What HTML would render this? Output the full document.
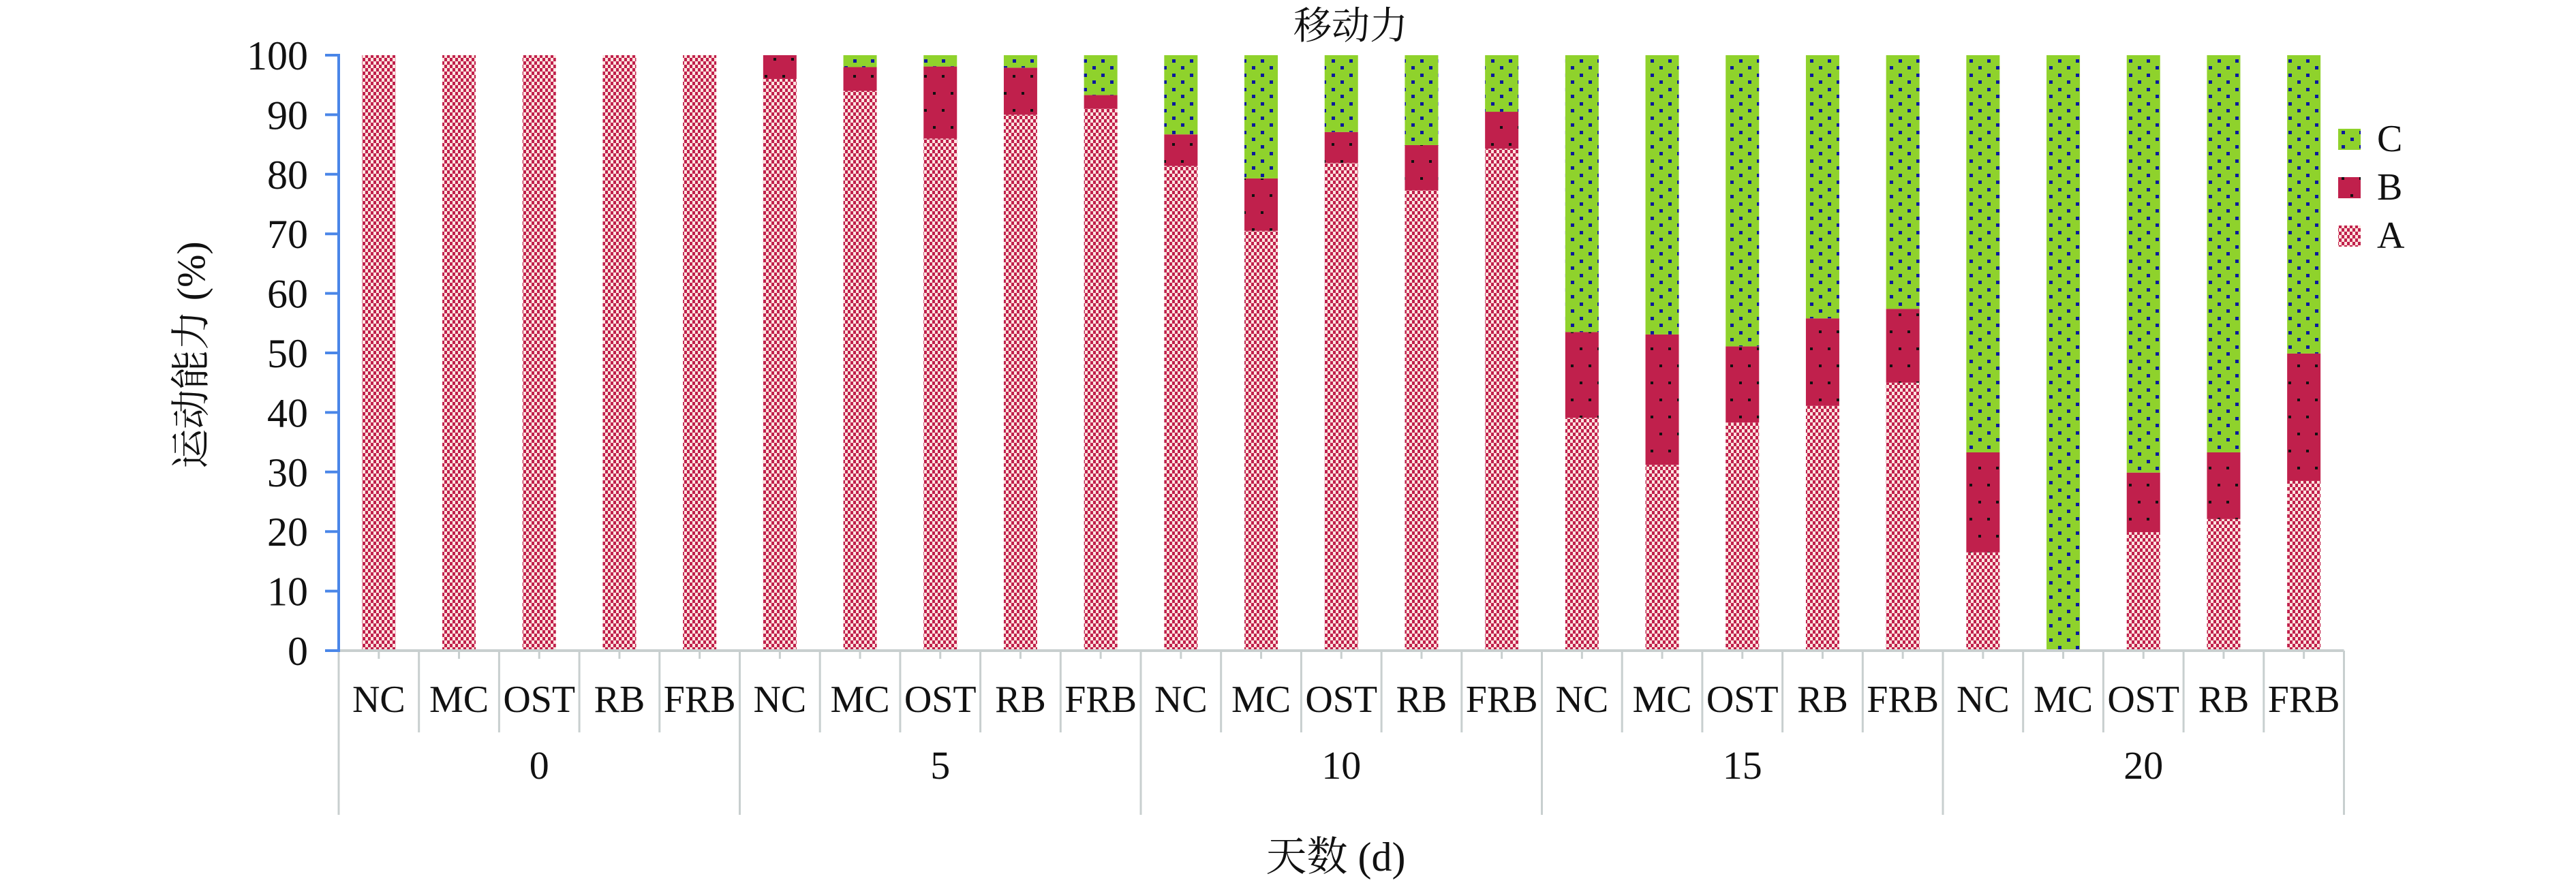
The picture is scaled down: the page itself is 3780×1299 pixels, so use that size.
<!DOCTYPE html>
<html><head><meta charset="utf-8"><style>
html,body{margin:0;padding:0;background:#fff;}
svg{display:block;}
text{font-family:"Liberation Serif","Noto Serif CJK SC","Noto Sans CJK SC",serif;fill:#111;}
</style></head><body>
<svg id="chart" width="3780" height="1299" viewBox="0 0 3780 1299">
<defs>
<pattern id="patA" width="8" height="10" patternUnits="userSpaceOnUse">
<rect width="8" height="10" fill="#fde3df"/>
<rect x="0" y="0" width="4" height="5" fill="#c0204c"/>
<rect x="4" y="5" width="4" height="5" fill="#c0204c"/>
</pattern>
<pattern id="patB" width="26" height="50" patternUnits="userSpaceOnUse">
<rect width="26" height="50" fill="#c0204c"/>
<rect x="4" y="10" width="4" height="4" fill="#111"/>
<rect x="17" y="35" width="4" height="4" fill="#111"/>
</pattern>
<pattern id="patC" width="26" height="21" patternUnits="userSpaceOnUse">
<rect width="26" height="21" fill="#8fd22c"/>
<rect x="4" y="3" width="5" height="5" fill="#0c1a9c"/>
<rect x="17" y="13" width="5" height="5" fill="#0c1a9c"/>
</pattern>
</defs>
<text x="1982" y="57" font-size="56" text-anchor="middle">移动力</text>
<text transform="translate(300,521) rotate(-90)" font-size="58" text-anchor="middle">运动能力 (%)</text>
<text x="1960" y="1278" font-size="60" text-anchor="middle">天数 (d)</text>
<g id="grid"></g>
<g id="bars"></g>
<g id="axes"></g>
<g>
<rect x="3431" y="189" width="33" height="31" fill="url(#patC)"/>
<text x="3488" y="222" font-size="56">C</text>
<rect x="3431" y="260" width="33" height="31" fill="url(#patB)"/>
<text x="3488" y="293" font-size="56">B</text>
<rect x="3431" y="331" width="33" height="31" fill="url(#patA)"/>
<text x="3488" y="364" font-size="56">A</text>
</g>
</svg>
<script>
const groups = ["0","5","10","15","20"];
const treatments = ["NC","MC","OST","RB","FRB"];
const seriesA = [100,100,100,100,100, 96,94,86,90,91, 81.4,70.5,81.9,77.3,84.3, 39.1,31.2,38.3,41.1,45.0, 16.5,0,19.9,22.1,28.5];
const seriesB = [0,0,0,0,0, 4,4,12.1,7.9,2.3, 5.3,8.8,5.2,7.6,6.2, 14.4,21.9,12.8,14.7,12.4, 16.8,0,10.0,11.2,21.4];
const seriesC = [0,0,0,0,0, 0,2,1.9,2.1,6.7, 13.3,20.7,12.9,15.1,9.5, 46.5,46.9,48.9,44.2,42.6, 66.7,100,70.1,66.7,50.1];
const yTicks = [0,10,20,30,40,50,60,70,80,90,100];

const NS="http://www.w3.org/2000/svg";
const X0=497, Y0=955, Y100=81, STEP=117.7, BW=49;
const n=groups.length*treatments.length;
const yScale=v=>Y0-(v/100)*(Y0-Y100);
const xCenter=i=>X0+STEP*(i+0.5);
function mk(tag,attrs,parent){const e=document.createElementNS(NS,tag);for(const k in attrs)e.setAttribute(k,attrs[k]);parent.appendChild(e);return e;}
const bars=document.getElementById('bars'), axes=document.getElementById('axes');
const series=[[seriesA,'url(#patA)','a'],[seriesB,'url(#patB)','b'],[seriesC,'url(#patC)','c']];
for(let i=0;i<n;i++){
  let base=0;
  for(const [arr,fill,nm] of series){
    const v=arr[i];
    if(v>0){
      const r=mk('rect',{x:xCenter(i)-BW/2,y:yScale(base+v),width:BW,height:yScale(base)-yScale(base+v),fill:fill},bars);
      
      
    }
    base+=v;
  }
}
// x axis
const xl=mk('line',{x1:X0,y1:Y0,x2:X0+STEP*n,y2:Y0,stroke:'#c8cfcf','stroke-width':4},axes);


for(let i=0;i<n;i++){
  mk('line',{x1:xCenter(i),y1:Y0,x2:xCenter(i),y2:Y0+12,stroke:'#c8cfcf','stroke-width':3},axes);
  const t=mk('text',{x:xCenter(i),y:1045,'font-size':56,'text-anchor':'middle'},axes);
  t.textContent=treatments[i%5];
  
  
}
for(let i=0;i<=n;i++){
  const x=X0+STEP*i;
  const long=(i%5===0);
  mk('line',{x1:x,y1:Y0,x2:x,y2:long?1196:1075,stroke:'#c8cfcf','stroke-width':3},axes);
}
for(let g=0;g<groups.length;g++){
  const t=mk('text',{x:X0+STEP*(g*5+2.5),y:1143,'font-size':58,'text-anchor':'middle'},axes);
  t.textContent=groups[g];
  
  
}
// y axis
const yl=mk('line',{x1:X0,y1:Y100-2,x2:X0,y2:Y0+2,stroke:'#4a86e8','stroke-width':4},axes);


for(const v of yTicks){
  const y=yScale(v);
  mk('line',{x1:477,y1:y,x2:X0,y2:y,stroke:'#4a86e8','stroke-width':4},axes);
  const t=mk('text',{x:452,y:y+21,'font-size':60,'text-anchor':'end'},axes);
  t.textContent=v;
  
  
}
</script>
</body></html>
